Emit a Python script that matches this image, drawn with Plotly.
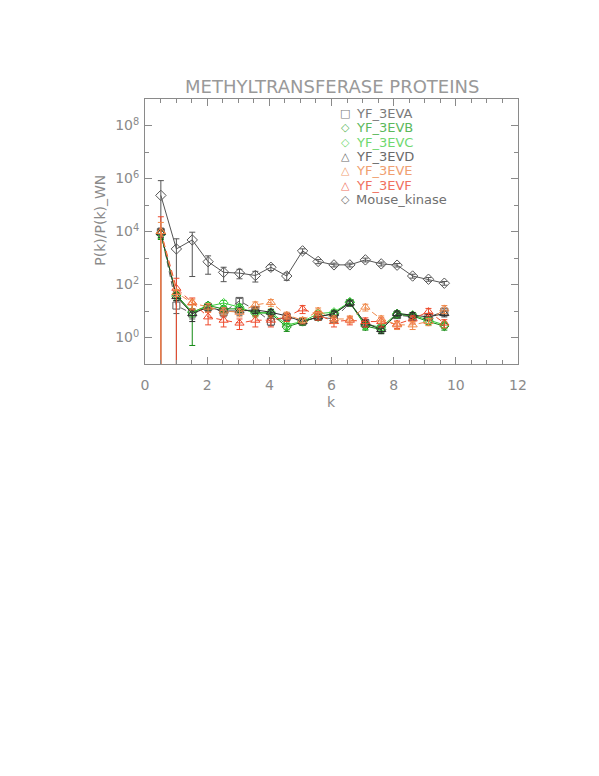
import numpy as np
import plotly.graph_objects as go

# ---- data ----
k_vals = [0.51, 1.01, 1.52, 2.03, 2.53, 3.04, 3.55, 4.05, 4.56, 5.07,
          5.57, 6.08, 6.59, 7.09, 7.60, 8.11, 8.61, 9.12, 9.63]

series_names = ["YF_3EVA", "YF_3EVB", "YF_3EVC", "YF_3EVD", "YF_3EVE", "YF_3EVF", "Mouse_kinase"]

yf_3eva = [9500, 16, 8, 14, 9, 24, 11, 4, 6, 4, 6, 5, 20, 3.5, 2.2, 7, 6, 6, 9.5]
yf_3evb = [8000, 40, 9, 16, 12, 12, 9, 8, 2.5, 4, 6, 8, 21, 2.7, 2.0, 7.5, 6.5, 4, 2.7]
yf_3evc = [8500, 35, 9, 15, 20, 14, 8, 9, 3, 4, 8, 9, 22, 3, 2.5, 8, 7, 4.5, 3]
yf_3evd = [9000, 35, 8, 14, 10, 10, 11, 9, 6.5, 4, 6, 8, 20, 3.5, 2.0, 8, 7, 6, 8]
yf_3eve = [10000, 50, 20, 14, 10, 9, 17, 21, 7, 4.5, 10, 5, 5, 14, 5, 3, 3, 4, 12]
yf_3evf = [10000, 72, 21, 6, 4.5, 3.5, 4.5, 4.5, 6, 12, 7, 4, 4.5, 4, 4, 3.2, 5, 9.5, 3.5]
mouse_kinase = [230000, 2200, 4800, 724, 288, 269, 219, 447, 209, 1860,
                741, 550, 550, 850, 600, 537, 209, 158, 112]

err_3eva = [4000, 8, 3, 4, 3, 6, 3, 1.2, 1.5, 1, 1.5, 1.2, 4, 1, 0.6, 1.8, 1.5, 1.5, 2.5]
err_3evb = [3000, 10, 8.5, 4, 3, 3, 2, 2, 0.8, 1, 1.5, 2, 4, 0.8, 0.6, 1.8, 1.5, 1, 0.8]
err_3evc = [3000, 10, 3, 4, 5, 3.5, 2, 2.5, 1, 1, 2, 2, 4, 1, 0.7, 2, 1.8, 1.2, 0.8]
err_3evd = [3000, 10, 4, 4, 3, 3, 3, 2.5, 1.8, 1, 1.5, 2, 4, 1, 0.6, 2, 1.8, 1.6, 2]
err_3eve = [12000, 15, 8, 5, 3, 3, 5, 6, 2, 1.2, 3, 1.5, 1.5, 4, 1.5, 1, 1, 1.2, 4]
err_3evf = [26000, 100, 10, 3, 2, 1.5, 2, 2, 2, 4, 2.5, 1.5, 1.5, 1.5, 1.5, 1, 1.5, 3, 1.2]
err_mouse = [600000, 3100, 4600, 480, 160, 105, 95, 110, 65, 350,
             130, 90, 90, 140, 100, 80, 35, 25, 18]

y_tickvals = [1, 1e2, 1e4, 1e6, 1e8]
y_ticktext = ["10<sup>0</sup>", "10<sup>2</sup>", "10<sup>4</sup>", "10<sup>6</sup>", "10<sup>8</sup>"]
y_minorvals = [1e-1, 1e1, 1e3, 1e5, 1e7, 1e9]
x_tickvals = [0, 2, 4, 6, 8, 10, 12]

# ---- styles ----
values = [yf_3eva, yf_3evb, yf_3evc, yf_3evd, yf_3eve, yf_3evf, mouse_kinase]
errors = [err_3eva, err_3evb, err_3evc, err_3evd, err_3eve, err_3evf, err_mouse]
colors = ["#5a5a5a", "#138a13", "#3ccc3c", "#2e2e2e", "#f0894a", "#ee4a2c", "#555555"]
text_colors = ["#7a7a7a", "#5cb85c", "#6fd86f", "#6a6a6a", "#f0a070", "#f07060", "#707070"]
symbols = ["square-open", "diamond-open", "diamond-open", "triangle-up-open",
           "triangle-up-open", "triangle-up-open", "diamond-open"]
legend_glyphs = ["\u25a1", "\u25c7", "\u25c7", "\u25b3", "\u25b3", "\u25b3", "\u25c7"]
dashes = ["6px,4px", "solid", "solid", "solid", "6px,4px", "6px,4px", "solid"]
marker_sizes = [7, 7, 7, 8, 8, 8, 8]

fig = go.Figure()
# draw the reference (mouse) series first so the coloured series lie on top
order = [6, 0, 1, 2, 3, 5, 4]
for i in order:
    yv = np.array(values[i], dtype=float)
    ev = np.array(errors[i], dtype=float)
    minus = np.where(ev >= yv, yv - 1e-3, ev)
    col = colors[i]
    fig.add_trace(go.Scatter(
        x=k_vals, y=yv, mode="lines+markers", name=series_names[i], showlegend=False,
        line=dict(color=col, width=1, dash=dashes[i]),
        marker=dict(symbol=symbols[i], size=marker_sizes[i], color=col,
                    line=dict(color=col, width=1)),
        error_y=dict(type="data", array=ev, arrayminus=minus, symmetric=False,
                     color=col, thickness=1, width=3),
    ))

axis_col = "#8a8a8a"
title_col = "#999999"
font_fam = "DejaVu Sans, sans-serif"

fig.update_xaxes(
    range=[0, 12], tickmode="array", tickvals=x_tickvals,
    ticks="inside", ticklen=7, tickcolor=axis_col, tickwidth=1,
    showline=True, linecolor=axis_col, linewidth=1, mirror="ticks",
    showgrid=False, zeroline=False,
    tickfont=dict(family=font_fam, size=14, color=axis_col),
    ticklabelstandoff=8,
    minor=dict(dtick=0.5, ticks="inside", ticklen=4, tickcolor=axis_col, showgrid=False),
)
fig.update_yaxes(
    type="log", range=[-1, 9], tickmode="array", tickvals=y_tickvals, ticktext=y_ticktext,
    ticks="inside", ticklen=7, tickcolor=axis_col, tickwidth=1,
    showline=True, linecolor=axis_col, linewidth=1, mirror="ticks",
    showgrid=False, zeroline=False,
    tickfont=dict(family=font_fam, size=14, color=axis_col),
    ticklabelstandoff=2,
    minor=dict(tickmode="array", tickvals=y_minorvals, ticks="inside", ticklen=4,
               tickcolor=axis_col, showgrid=False),
)

# target plot box in page pixels (page body has an 8px default margin)
body = 8
plot_l, plot_r, plot_t, plot_b = 145, 518, 99, 364

annotations = [
    dict(text="METHYLTRANSFERASE PROTEINS", xref="paper", yref="paper", x=0.5, y=1,
         yshift=13, xanchor="center", yanchor="middle", showarrow=False,
         font=dict(family=font_fam, size=18, color=title_col)),
    dict(text="k", xref="paper", yref="paper", x=0.5, y=-0.1436,
         xanchor="center", yanchor="middle", showarrow=False,
         font=dict(family=font_fam, size=14, color=axis_col)),
    dict(text="P(k)/P(k)_WN", xref="paper", yref="paper", x=-0.121, y=0.544,
         textangle=-90, xanchor="center", yanchor="middle", showarrow=False,
         font=dict(family=font_fam, size=14, color=axis_col)),
]

# legend (drawn as text rows inside the plot)
for i, (name, tc, g) in enumerate(zip(series_names, text_colors, legend_glyphs)):
    ypx = 113.5 + 14.3 * i
    yp = (plot_b - ypx) / (plot_b - plot_t)
    annotations.append(dict(text=g, xref="paper", yref="paper",
                            x=(345 - plot_l) / (plot_r - plot_l), y=yp,
                            xanchor="center", yanchor="middle", showarrow=False,
                            font=dict(family=font_fam, size=11, color=tc)))
    annotations.append(dict(text=name, xref="paper", yref="paper",
                            x=(354 - plot_l) / (plot_r - plot_l), y=yp,
                            xanchor="left", yanchor="middle", showarrow=False,
                            font=dict(family=font_fam, size=13, color=tc)))

W, H = 599, 776
fig.update_layout(
    width=W, height=H,
    margin=dict(l=plot_l - body, r=W - (plot_r - body), t=plot_t - body,
                b=H - (plot_b - body), pad=0),
    paper_bgcolor="white", plot_bgcolor="white",
    showlegend=False,
    annotations=annotations,
)

fig.write_html("out.html")
